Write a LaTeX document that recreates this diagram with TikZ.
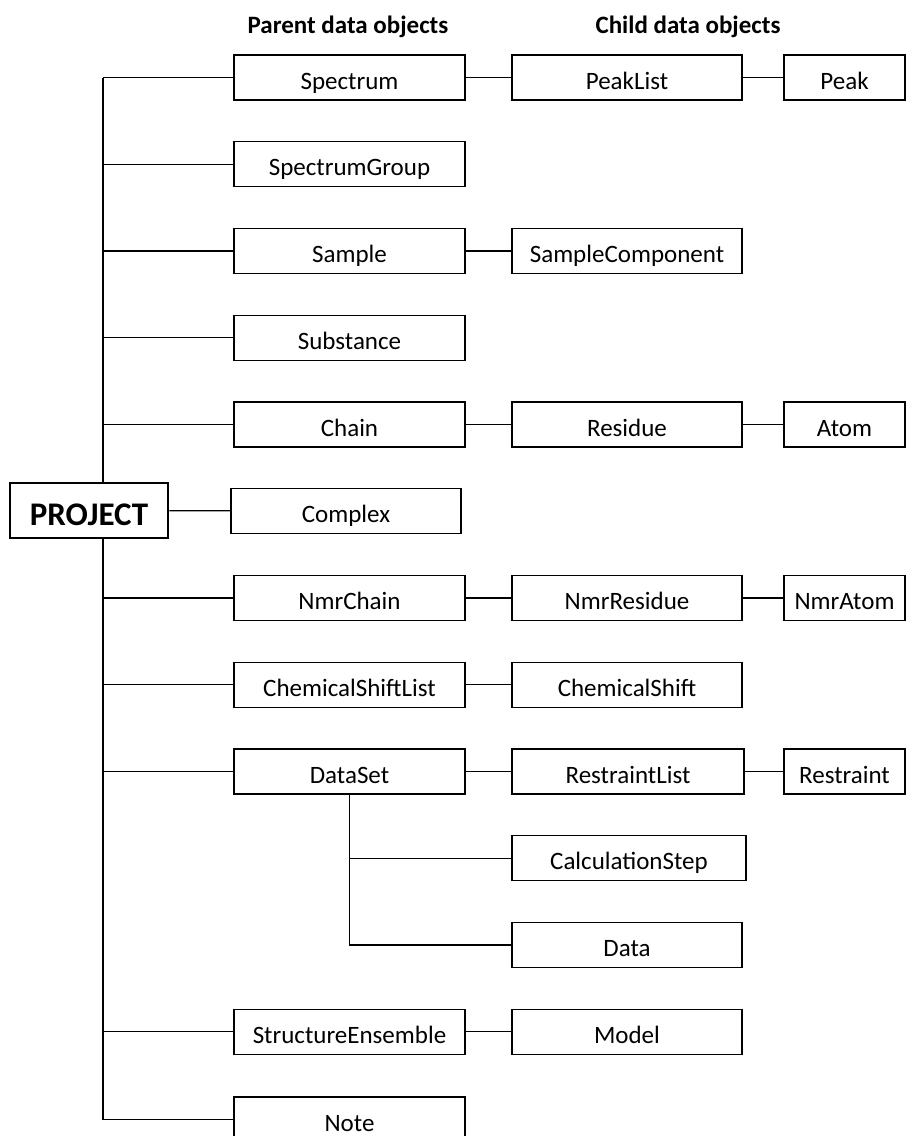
\documentclass[tikz,border=0pt]{standalone}
\usepackage{fontspec}
\setmainfont{Carlito}
\begin{document}
\begin{tikzpicture}[x=1pt,y=-1pt,
  obj/.style={draw, line width=1.3pt, minimum height=45pt, inner sep=0pt, fill=white,
    text height=26pt, text depth=3pt, font=\fontsize{25}{30}\selectfont},
  lcol/.style={obj, minimum width=231pt},
  mcol/.style={obj, minimum width=230pt},
  rcol/.style={obj, minimum width=121pt},
  conn/.style={line width=1.3pt},
  title/.style={text height=26pt, text depth=3pt, inner sep=0pt, font=\fontsize{25}{30}\selectfont\bfseries}]
\useasboundingbox (0,0) rectangle (907,1136);
\fill[white] (0,0) rectangle (907,1136);

\node[title] (tp) at (348,21.5) {Parent data objects};
\node[title] (tc) at (688,21.5) {Child data objects};

\coordinate (T) at (103,0);

\node[lcol] (Spectrum) at (349.5,77.5) {Spectrum};
\node[mcol] (PeakList) at (627,77.5) {PeakList};
\node[rcol] (Peak) at (844.5,77.5) {Peak};

\node[lcol] (SpectrumGroup) at (349.5,164.25) {SpectrumGroup};

\node[lcol] (Sample) at (349.5,251) {Sample};
\node[mcol] (SampleComponent) at (627,251) {SampleComponent};

\node[lcol] (Substance) at (349.5,337.75) {Substance};

\node[lcol] (Chain) at (349.5,424.5) {Chain};
\node[mcol] (Residue) at (627,424.5) {Residue};
\node[rcol] (Atom) at (844.5,424.5) {Atom};

\node[lcol, minimum width=230pt] (Complex) at (346,511) {Complex};

\node[lcol] (NmrChain) at (349.5,598) {NmrChain};
\node[mcol] (NmrResidue) at (627,598) {NmrResidue};
\node[rcol] (NmrAtom) at (844.5,598) {NmrAtom};

\node[lcol] (ChemicalShiftList) at (349.5,684.75) {ChemicalShiftList};
\node[mcol] (ChemicalShift) at (627,684.75) {ChemicalShift};

\node[lcol] (DataSet) at (349.5,771.5) {DataSet};
\node[mcol, minimum width=232pt] (RestraintList) at (628,771.5) {RestraintList};
\node[rcol] (Restraint) at (844.5,771.5) {Restraint};

\node[mcol, minimum width=234pt] (CalculationStep) at (629,858.25) {CalculationStep};
\node[mcol] (Data) at (627,945) {Data};

\node[lcol] (StructureEnsemble) at (349.5,1031.75) {StructureEnsemble};
\node[mcol] (Model) at (627,1031.75) {Model};

\node[lcol] (Note) at (349.5,1119.5) {Note};

% trunk
\draw[conn] (Spectrum.west -| T) -- (Note.west -| T);
\foreach \n in {Spectrum,SpectrumGroup,Sample,Substance,Chain,NmrChain,ChemicalShiftList,DataSet,StructureEnsemble,Note}
  \draw[conn] (\n.west -| T) -- (\n.west);

% project
\node[draw, line width=2.5pt, fill=white, minimum width=158pt, minimum height=55pt, inner sep=0pt,
  text height=30pt, text depth=0pt,
  font=\fontsize{33}{38}\selectfont\bfseries] (PROJECT) at (89,510.5) {PROJECT};
\draw[conn] (PROJECT) -- (Complex);

% children
\draw[conn] (Spectrum) -- (PeakList);
\draw[conn] (PeakList) -- (Peak);
\draw[conn] (Sample) -- (SampleComponent);
\draw[conn] (Chain) -- (Residue);
\draw[conn] (Residue) -- (Atom);
\draw[conn] (NmrChain) -- (NmrResidue);
\draw[conn] (NmrResidue) -- (NmrAtom);
\draw[conn] (ChemicalShiftList) -- (ChemicalShift);
\draw[conn] (DataSet) -- (RestraintList);
\draw[conn] (RestraintList) -- (Restraint);
\draw[conn] (StructureEnsemble) -- (Model);
\draw[conn] (DataSet.south) |- (Data.west);
\draw[conn] (DataSet.south |- CalculationStep.west) -- (CalculationStep.west);
\end{tikzpicture}
\end{document}
